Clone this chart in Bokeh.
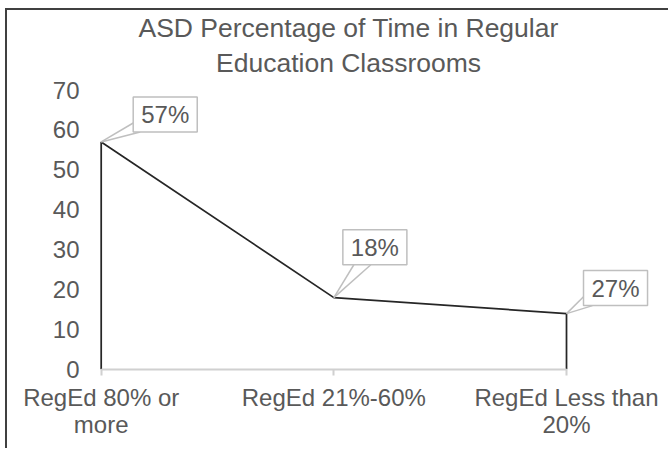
from bokeh.plotting import figure
from bokeh.models import Range1d, FixedTicker, Title, Label
from bokeh.embed import file_html
from bokeh.resources import INLINE

# ---- data ----
categories = ["RegEd 80% or\nmore", "RegEd 21%-60%", "RegEd Less than\n20%"]
values = [57, 18, 14]
label_texts = ["57%", "18%", "27%"]
y_ticks = [0, 10, 20, 30, 40, 50, 60, 70]
title_lines = ["ASD Percentage of Time in Regular", "Education Classrooms"]

# ---- layout / style ----
FONT = "Liberation Sans"
TXT = "#595959"
W, H = 663, 440
ML, MR, MT, MB = 84, 0, 70, 81
X_START, X_END = -0.0417, 2.447
Y_START, Y_END = 0, 72.14
SX = (W - ML - MR) / (X_END - X_START)   # px per x unit
SY = (H - MT - MB) / (Y_END - Y_START)   # px per y unit

# callout geometry in pixels, relative to the data point (y up)
box_offsets = [(32, 10), (9, 33), (17, 8)]
tail_offsets = [((32, 19), (39, 10)), ((20, 33), (37, 33)), ((17, 17), (26, 8))]
title_offsets = [47, 124.5]

p = figure(width=W, height=H, title=None,
           x_range=Range1d(X_START, X_END), y_range=Range1d(Y_START, Y_END),
           output_backend="svg", toolbar_location=None,
           min_border_left=ML, min_border_right=MR,
           min_border_top=MT, min_border_bottom=MB,
           background_fill_color="white", border_fill_color="white",
           outline_line_color=None,
           styles={"margin-left": "5px", "margin-top": "8px",
                   "border-left": "2px solid #404040",
                   "border-top": "2px solid #404040"})

p.xgrid.visible = False
p.ygrid.visible = False

xa = p.xaxis[0]
xa.ticker = FixedTicker(ticks=list(range(len(categories))))
xa.major_label_overrides = {i: c for i, c in enumerate(categories)}
xa.bounds = (0, len(categories) - 1)
xa.axis_line_color = "#d0d0d0"
xa.axis_line_width = 2
xa.major_tick_line_color = "#d0d0d0"
xa.major_tick_line_width = 2
xa.major_tick_out = 6
xa.major_tick_in = 0
xa.minor_tick_line_color = None
xa.major_label_standoff = 8
xa.major_label_text_font = FONT
xa.major_label_text_font_size = "24px"
xa.major_label_text_color = TXT
xa.major_label_text_line_height = 1.0

ya = p.yaxis[0]
ya.ticker = FixedTicker(ticks=y_ticks)
ya.axis_line_color = None
ya.major_tick_line_color = None
ya.minor_tick_line_color = None
ya.major_tick_out = 0
ya.major_tick_in = 0
ya.major_label_standoff = 12
ya.major_label_text_font = FONT
ya.major_label_text_font_size = "24px"
ya.major_label_text_color = TXT

xi = list(range(len(values)))
p.line([xi[0]] + xi + [xi[-1]], [0] + values + [0],
       line_color="#262626", line_width=1.75)

for i, (v, t) in enumerate(zip(values, label_texts)):
    for (dx, dy) in tail_offsets[i]:
        p.segment(x0=[i], y0=[v], x1=[i + dx / SX], y1=[v + dy / SY],
                  line_color="#bfbfbf", line_width=1.5)
    bdx, bdy = box_offsets[i]
    p.add_layout(Label(x=i, y=v, x_offset=bdx, y_offset=bdy, text=t,
                       anchor="bottom_left",
                       text_font=FONT, text_font_size="24px", text_color=TXT,
                       background_fill_color="white",
                       border_line_color="#bfbfbf", border_line_width=1.5,
                       padding=dict(left=8, right=8, top=4, bottom=4)))

# second line first: the first title added sits closest to the frame
for line, off, so, lh in [(title_lines[1], title_offsets[1], 7, 1.2),
                          (title_lines[0], title_offsets[0], 0, 1.1)]:
    p.add_layout(Title(text=line, align="left", text_font=FONT,
                       text_font_size="26.5px", text_font_style="normal",
                       text_color=TXT, standoff=so, offset=off,
                       text_line_height=lh), "above")

open("out.html", "w").write(file_html(p, INLINE))
